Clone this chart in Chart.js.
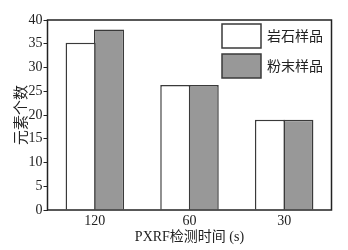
<!DOCTYPE html>
<html>
<head>
<meta charset="utf-8">
<script src="https://cdn.jsdelivr.net/npm/chart.js@4"></script>
<style>
html,body{margin:0;padding:0;background:#fff;}
#wrap{width:348px;height:250px;}
</style>
</head>
<body>
<div id="wrap"><canvas id="c" width="348" height="250"></canvas></div>
<script>
const categories = ['120', '60', '30'];
const rockValues = [35.2, 26.3, 19.0];
const powderValues = [38.0, 26.3, 19.0];
const seriesLabels = ['岩石样品', '粉末样品'];
const yTicks = [0, 5, 10, 15, 20, 25, 30, 35, 40];
const xTitle = 'PXRF检测时间 (s)';
const yTitle = '元素个数';

const FONT = '"Liberation Serif", "Noto Sans CJK SC", serif';
const BORDER = '#3a3a3a';

const framePlugin = {
  id: 'frame',
  afterDatasetsDraw(chart) {
    const {ctx, chartArea: a} = chart;
    ctx.save();
    ctx.strokeStyle = '#222';
    ctx.lineWidth = 1.5;
    ctx.strokeRect(a.left, a.top, a.right - a.left, a.bottom - a.top);
    // legend inside plot area
    const ds = chart.data.datasets;
    const bx = 222, bw = 39, bh = 24;
    const ys = [24, 54];
    ctx.font = '14px ' + FONT;
    ctx.textBaseline = 'middle';
    ctx.textAlign = 'left';
    ds.forEach((d, i) => {
      ctx.fillStyle = d.backgroundColor;
      ctx.fillRect(bx, ys[i], bw, bh);
      ctx.strokeStyle = BORDER;
      ctx.lineWidth = 1.5;
      ctx.strokeRect(bx, ys[i], bw, bh);
      ctx.fillStyle = '#222';
      ctx.fillText(d.label, 267, ys[i] + bh / 2 + 1);
    });
    ctx.restore();
  }
};

new Chart(document.getElementById('c'), {
  type: 'bar',
  data: {
    labels: categories,
    datasets: [
      { label: seriesLabels[0], data: rockValues, backgroundColor: '#ffffff', borderColor: BORDER, borderWidth: 1.5 },
      { label: seriesLabels[1], data: powderValues, backgroundColor: '#989898', borderColor: BORDER, borderWidth: 1.5 }
    ]
  },
  options: {
    responsive: false,
    animation: false,
    devicePixelRatio: 1,
    layout: { padding: { top: 20, right: 16.5, left: 0, bottom: 0 } },
    plugins: { legend: { display: false }, tooltip: { enabled: false } },
    datasets: { bar: { categoryPercentage: 0.6, barPercentage: 1.06 } },
    scales: {
      x: {
        grid: { display: false, drawTicks: false },
        border: { display: false },
        ticks: { color: '#222', font: { family: FONT, size: 14 }, padding: 3, maxRotation: 0 },
        title: { display: true, text: xTitle, color: '#222', font: { family: FONT, size: 14 }, padding: { top: 0, bottom: 4 } },
        afterFit(s) { s.height = 40; }
      },
      y: {
        min: 0, max: 40,
        afterBuildTicks(s) { s.ticks = yTicks.map(v => ({ value: v })); },
        grid: { display: true, drawOnChartArea: false, drawTicks: true, tickLength: 4, color: '#222', lineWidth: 1 },
        border: { display: false },
        ticks: { color: '#222', font: { family: FONT, size: 14 }, padding: 1 },
        title: { display: true, text: yTitle, color: '#222', font: { family: FONT, size: 15 }, padding: { top: 13, bottom: 0 } },
        afterFit(s) { s.width = 47.5; }
      }
    }
  },
  plugins: [framePlugin]
});
</script>
</body>
</html>
